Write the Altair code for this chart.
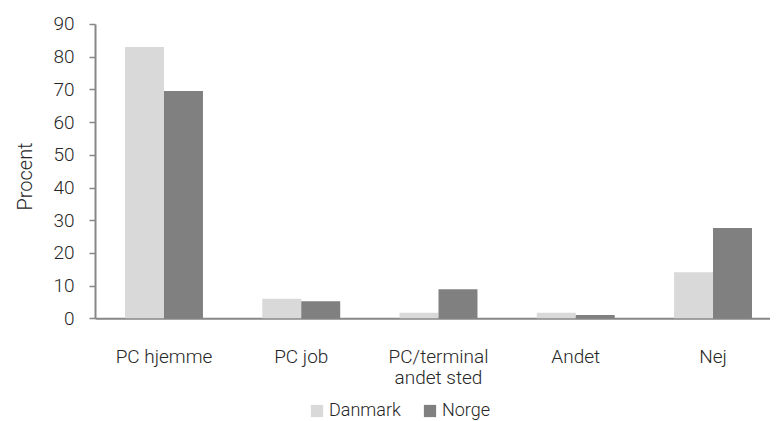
import altair as alt
import pandas as pd

categories = ["PC hjemme", "PC job", "PC/terminal andet sted", "Andet", "Nej"]
danmark = [83.0, 6.0, 1.7, 1.7, 14.1]
norge = [69.5, 5.2, 8.9, 1.0, 27.6]
series = ["Danmark", "Norge"]
colors = ["#d9d9d9", "#808080"]
y_ticks = [0, 10, 20, 30, 40, 50, 60, 70, 80, 90]

rows = []
for c, d, n in zip(categories, danmark, norge):
    rows.append({"kategori": c, "land": "Danmark", "procent": d})
    rows.append({"kategori": c, "land": "Norge", "procent": n})
df = pd.DataFrame(rows)

FONT = "Roboto"
TXT = "#262626"
AX = "#878787"
W = 300

chart = alt.Chart(df).mark_bar().encode(
    x=alt.X("kategori:N", sort=categories,
            scale=alt.Scale(range=[0, 687], paddingInner=0.432, paddingOuter=0.2186),
            axis=alt.Axis(title=None, labelAngle=0, ticks=False, tickSize=0,
                          labelPadding=29, labelFontSize=19, labelLineHeight=21,
                          labelFontWeight=W,
                          labelColor=TXT, labelFont=FONT, domainColor=AX, domainWidth=2,
                          labelExpr="datum.label == 'PC/terminal andet sted' ? ['PC/terminal', 'andet sted'] : datum.label")),
    xOffset=alt.XOffset("land:N", sort=series, scale=alt.Scale(paddingInner=0, paddingOuter=0)),
    y=alt.Y("procent:Q",
            scale=alt.Scale(domain=[0, 90], nice=False),
            axis=alt.Axis(title="Procent", values=y_ticks, grid=False, tickSize=6,
                          tickColor=AX, tickWidth=1.5, domainColor=AX, domainWidth=2,
                          labelPadding=15, labelFontSize=19, labelColor=TXT, labelFont=FONT,
                          labelFontWeight=W,
                          titleFont=FONT, titleFontSize=20, titleFontWeight=W,
                          titleColor=TXT, titleAngle=-90, titleX=-70, titleY=152,
                          titleAlign="center", titleBaseline="middle")),
    color=alt.Color("land:N", sort=series,
                    scale=alt.Scale(domain=series, range=colors),
                    legend=alt.Legend(title=None, orient="none", legendX=213, legendY=378,
                                      direction="horizontal", symbolType="square",
                                      symbolSize=150, symbolStrokeWidth=0,
                                      labelFontSize=18, labelFont=FONT, labelColor=TXT,
                                      labelFontWeight=W,
                                      labelOffset=3, columnPadding=20, padding=0)),
).properties(
    width=675,
    height=294.3,
    autosize=alt.AutoSizeParams(type="none"),
    padding={"left": 87, "top": 16, "right": 0, "bottom": 103},
).configure_view(stroke=None)

chart.save("out.html", embed_options={"renderer": "svg", "actions": False})
